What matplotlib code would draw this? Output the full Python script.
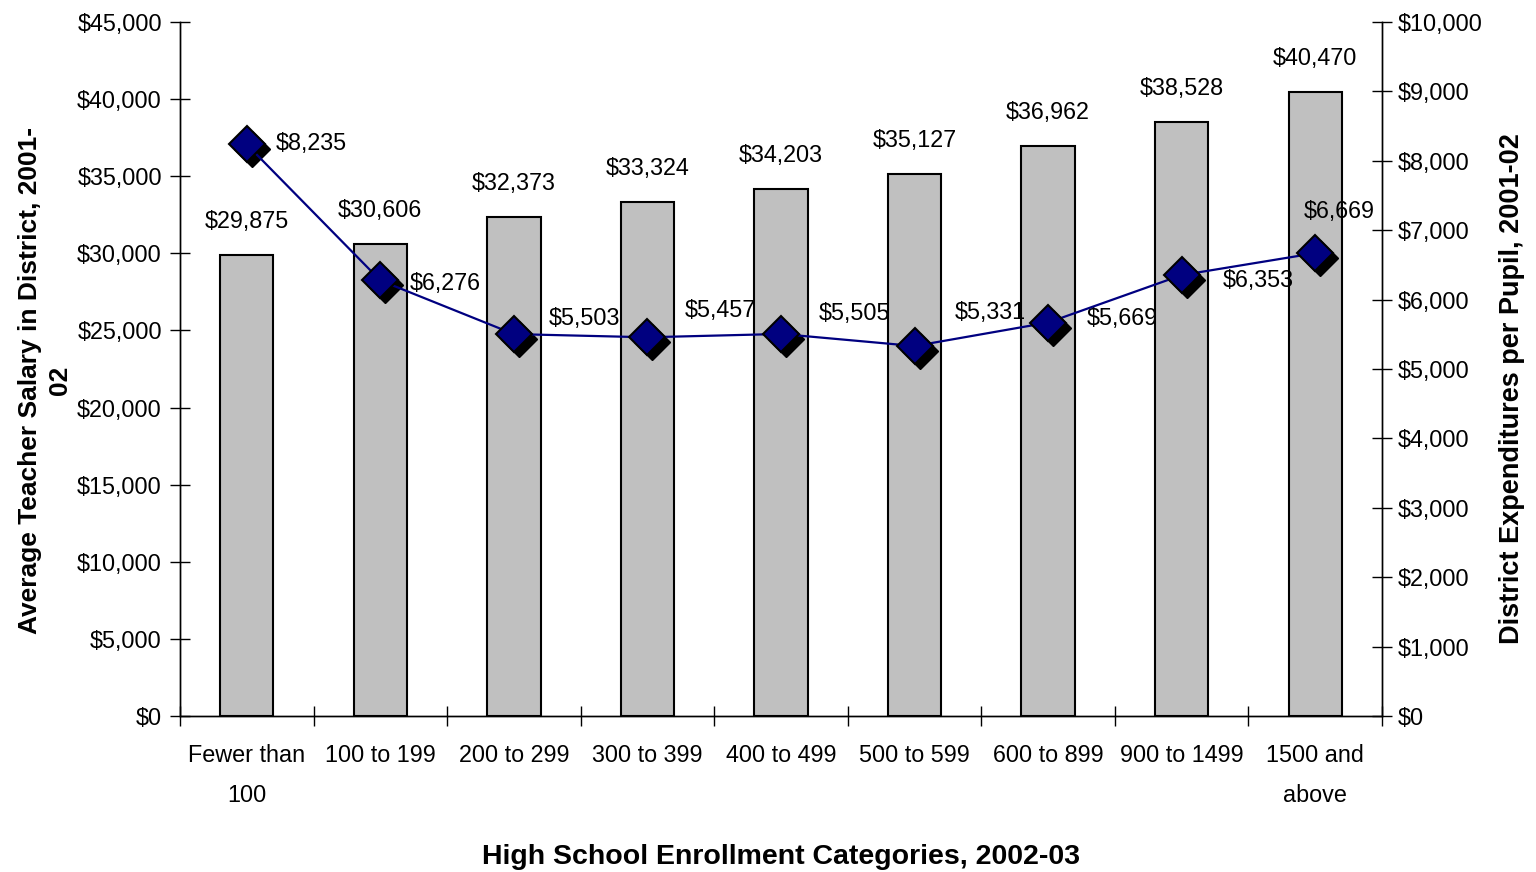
import matplotlib
matplotlib.use("Agg")
import matplotlib.pyplot as plt
import matplotlib.transforms as mtransforms
import numpy as np

# data
categories = ["Fewer than\n100", "100 to 199", "200 to 299", "300 to 399", "400 to 499",
              "500 to 599", "600 to 899", "900 to 1499", "1500 and\nabove"]
avg_salary = [29875, 30606, 32373, 33324, 34203, 35127, 36962, 38528, 40470]
expend_per_pupil = [8235, 6276, 5503, 5457, 5505, 5331, 5669, 6353, 6669]

# label offsets (pixels) for the line labels, relative to each marker
line_label_offsets = [(29, 1), (29, -3), (35, 16), (37, 27), (38, 20),
                      (40, 34), (39, 4), (41, -5), (-11, 42)]

plt.rcParams["font.family"] = ["Liberation Sans", "DejaVu Sans"]
FS = 16.8

fig, ax = plt.subplots(figsize=(15.36, 8.72), dpi=100)
fig.subplots_adjust(left=180 / 1536, right=1382 / 1536, top=1 - 22 / 872, bottom=1 - 716 / 872)
ax2 = ax.twinx()

x = np.arange(len(categories))

# bars (left axis)
ax.bar(x, avg_salary, width=0.4, color="#c0c0c0", edgecolor="black", linewidth=1.5, zorder=2)
for xi, v in zip(x, avg_salary):
    ax.annotate(f"${v:,}", (xi, v), xytext=(0, 22), textcoords="offset pixels",
                ha="center", va="bottom", fontsize=FS)

# line with shadowed diamond markers (right axis)
shadow = mtransforms.offset_copy(ax2.transData, fig=fig, x=5, y=-5, units="dots")
ax2.plot(x, expend_per_pupil, linestyle="none", marker="D", markersize=18,
         color="black", transform=shadow, zorder=3)
ax2.plot(x, expend_per_pupil, color="#000080", linewidth=1.6, marker="D", markersize=18,
         markerfacecolor="#000080", markeredgecolor="black", markeredgewidth=1.5, zorder=4)
for xi, v, (dx, dy) in zip(x, expend_per_pupil, line_label_offsets):
    ax2.annotate(f"${v:,}", (xi, v), xytext=(dx, dy), textcoords="offset pixels",
                 ha="left", va="center", fontsize=FS)

# axes limits and ticks
ax.set_xlim(-0.5, len(categories) - 0.5)
ax.set_ylim(0, 45000)
ax2.set_ylim(0, 10000)
ax.set_yticks(np.arange(0, 45001, 5000))
ax2.set_yticks(np.arange(0, 10001, 1000))
ax.set_yticklabels([f"${v:,}" for v in range(0, 45001, 5000)], fontsize=FS)
ax2.set_yticklabels([f"${v:,}" for v in range(0, 10001, 1000)], fontsize=FS)

ax.set_xticks(x)
ax.set_xticklabels(categories, fontsize=FS, linespacing=1.95)
ax.set_xticks(np.arange(-0.5, len(categories), 1), minor=True)
ax.tick_params(axis="x", which="major", length=0, pad=20)
ax.tick_params(axis="x", which="minor", length=14, direction="inout", width=1)
ax.tick_params(axis="y", length=14, direction="inout", width=1, pad=6)
ax2.tick_params(axis="y", length=14, direction="inout", width=1, pad=4)

for a in (ax, ax2):
    a.spines["top"].set_visible(False)
    for s in ("left", "right", "bottom"):
        a.spines[s].set_linewidth(1)

ax.set_xlabel("High School Enrollment Categories, 2002-03", fontsize=20.5, fontweight="bold", labelpad=27)
ax.set_ylabel("Average Teacher Salary in District, 2001-\n02", fontsize=19, fontweight="bold",
              linespacing=1.3)
ax2.set_ylabel("District Expenditures per Pupil, 2001-02", fontsize=19.5, fontweight="bold")
ax.yaxis.set_label_coords(-0.09, 0.483)
ax2.yaxis.set_label_coords(1.097, 0.472)

ax2.set_zorder(ax.get_zorder() + 1)
ax2.patch.set_visible(False)

fig.savefig("out.png", dpi=100)
